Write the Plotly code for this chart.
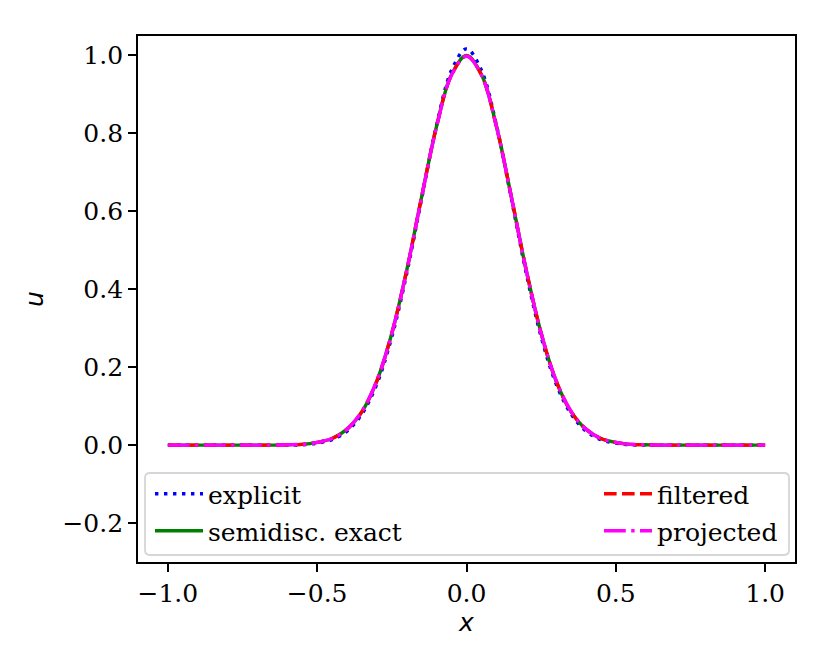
import plotly.graph_objects as go

# sample points (half grid, the curves are symmetric about x = 0)
x_half = [0.0, 0.05, 0.10, 0.15, 0.20, 0.25, 0.30, 0.35, 0.40, 0.45, 0.50,
          0.55, 0.60, 0.65, 0.70, 0.75, 0.80, 0.85, 0.90, 0.95, 1.0]

# values
u_explicit = [1.017, 0.962, 0.822, 0.633, 0.441, 0.278, 0.157, 0.080, 0.036, 0.014, 0.005,
              0.001, 0.000, 0.000, 0.000, 0.000, 0.000, 0.000, 0.000, 0.000, 0.000]
u_semidisc = [1.000, 0.951, 0.819, 0.638, 0.449, 0.287, 0.165, 0.086, 0.041, 0.017, 0.007,
              0.002, 0.001, 0.000, 0.000, 0.000, 0.000, 0.000, 0.000, 0.000, 0.000]
u_filtered = [0.999, 0.950, 0.819, 0.638, 0.449, 0.287, 0.165, 0.086, 0.041, 0.017, 0.007,
              0.002, 0.001, 0.000, 0.000, 0.000, 0.000, 0.000, 0.000, 0.000, 0.000]
u_projected = [0.998, 0.950, 0.818, 0.638, 0.449, 0.287, 0.166, 0.087, 0.041, 0.017, 0.007,
               0.002, 0.001, 0.000, 0.000, 0.000, 0.000, 0.000, 0.000, 0.000, 0.000]

x_ticks = [-1.0, -0.5, 0.0, 0.5, 1.0]
x_ticktext = ["\u22121.0", "\u22120.5", "0.0", "0.5", "1.0"]
y_ticks = [-0.2, 0.0, 0.2, 0.4, 0.6, 0.8, 1.0]
y_ticktext = ["\u22120.2", "0.0", "0.2", "0.4", "0.6", "0.8", "1.0"]


def full(half):
    # mirror the half curve to cover [-1, 1]
    return half[:0:-1] + half


def full_x(half):
    return [-v for v in half[:0:-1]] + half


xs = full_x(x_half)

SERIF = "DejaVu Serif"
FS = 25
LW = 3.4

# matplotlib style dash patterns, scaled to line width
DOT = "3.4px,5.6px"
DASH = "12.6px,5.4px"
DASHDOT = "21.8px,5.4px,3.4px,5.4px"

series = [
    ("explicit", u_explicit, "blue", DOT, "legend"),
    ("semidisc. exact", u_semidisc, "green", "solid", "legend3"),
    ("filtered", u_filtered, "red", DASH, "legend2"),
    ("projected", u_projected, "magenta", DASHDOT, "legend4"),
]

fig = go.Figure()
for name, vals, col, dash, leg in series:
    fig.add_trace(go.Scatter(x=xs, y=full(vals), mode="lines", name=name,
                             line=dict(color=col, width=LW, dash=dash, shape="spline"),
                             legend=leg))

# plot area in pixels (page is offset by the 8px body margin): x 130..787, y 28..554
L, T, W, H = 130, 28, 657, 526


def px_x(p):
    return (p - 8 - L) / W


def px_y(p):
    return (T + H - (p - 8)) / H


leg_common = dict(font=dict(family=SERIF, size=FS, color="black"),
                  bgcolor="rgba(0,0,0,0)", borderwidth=0, itemwidth=48,
                  xanchor="left", yanchor="middle", tracegroupgap=0)
fig.update_layout(
    legend=dict(x=px_x(150), y=px_y(494), **leg_common),
    legend2=dict(x=px_x(599), y=px_y(494), **leg_common),
    legend3=dict(x=px_x(150), y=px_y(531), **leg_common),
    legend4=dict(x=px_x(599), y=px_y(531), **leg_common),
)

# legend frame
x0, x1 = px_x(145), px_x(789)
y0, y1 = px_y(555), px_y(473)
rx, ry = 5 / W, 5 / H
frame = (f"M{x0+rx},{y0} L{x1-rx},{y0} Q{x1},{y0} {x1},{y0+ry} "
         f"L{x1},{y1-ry} Q{x1},{y1} {x1-rx},{y1} L{x0+rx},{y1} "
         f"Q{x0},{y1} {x0},{y1-ry} L{x0},{y0+ry} Q{x0},{y0} {x0+rx},{y0} Z")
fig.add_shape(type="path", path=frame, xref="paper", yref="paper",
              line=dict(color="#d6d6d6", width=1.8), fillcolor="rgba(255,255,255,0.8)",
              layer="above")

axis_common = dict(showgrid=False, zeroline=False, showline=True, linecolor="black",
                   linewidth=1.8, mirror=True, ticks="outside", ticklen=8, tickwidth=1.8,
                   tickcolor="black", tickfont=dict(family=SERIF, size=FS, color="black"))
fig.update_xaxes(range=[-1.1, 1.1], tickvals=x_ticks, ticktext=x_ticktext,
                 title=dict(text="<i>x</i>", font=dict(family="DejaVu Sans", size=FS, color="black"),
                            standoff=4),
                 **axis_common)
fig.update_yaxes(range=[-0.3, 1.05], tickvals=y_ticks, ticktext=y_ticktext,
                 title=dict(text="<i>u</i>", font=dict(family="DejaVu Sans", size=FS, color="black"),
                            standoff=12),
                 **axis_common)

fig.update_layout(width=830, height=664, plot_bgcolor="white", paper_bgcolor="white",
                  margin=dict(l=L, r=830 - L - W, t=T, b=664 - T - H), showlegend=True)

fig.write_html("out.html")
